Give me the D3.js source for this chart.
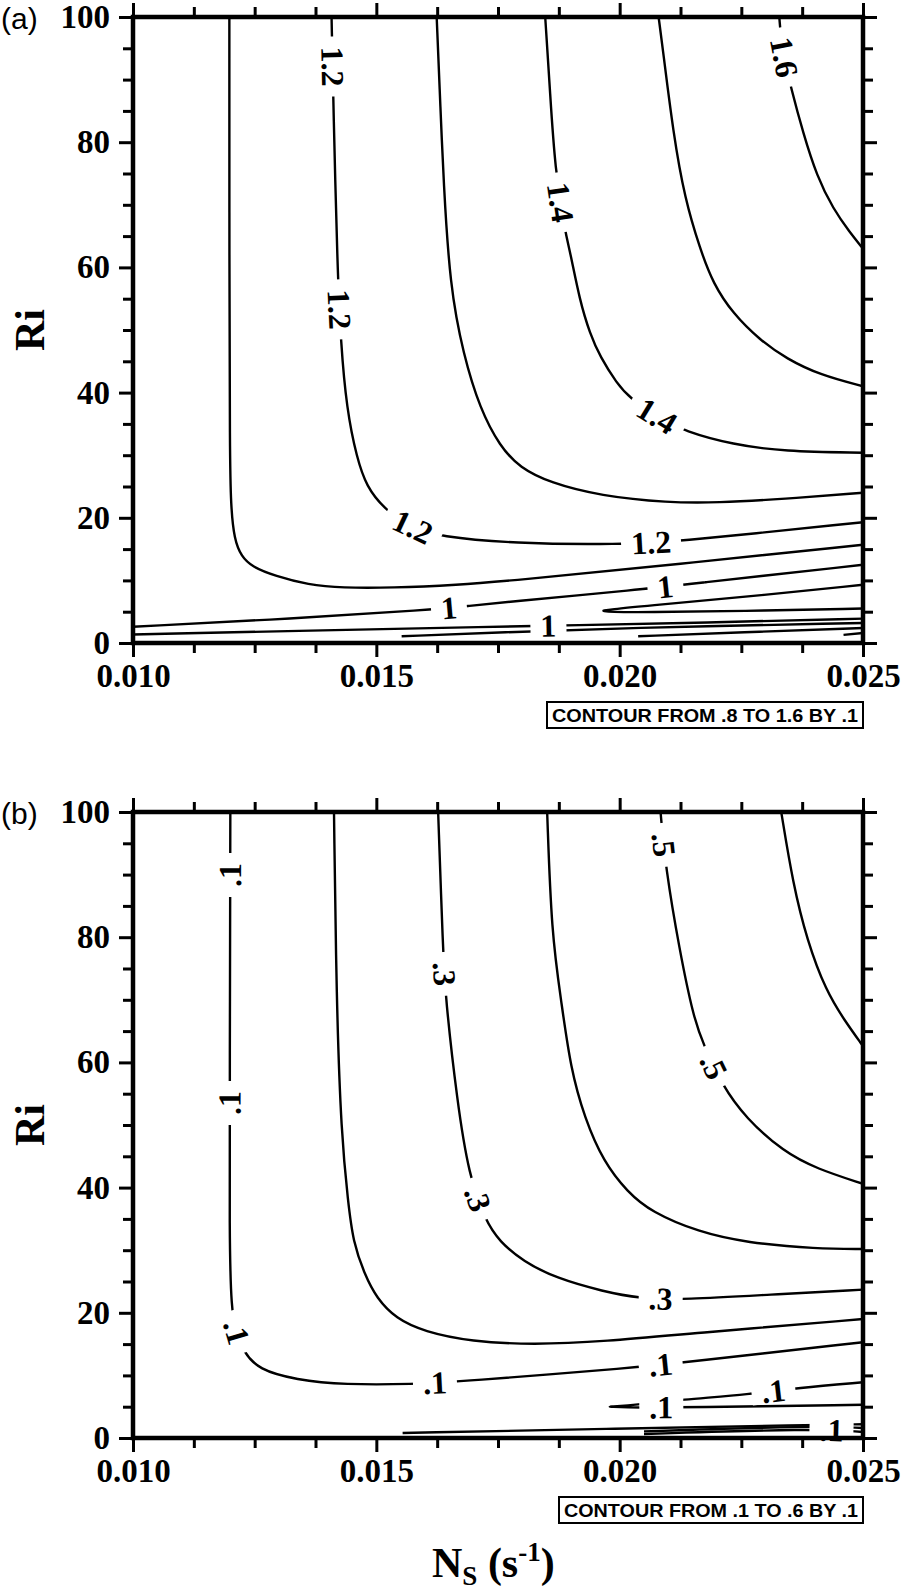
<!DOCTYPE html>
<html>
<head>
<meta charset="utf-8">
<script src="https://cdn.jsdelivr.net/npm/d3@7"></script>
<style>
  body { margin: 0; background: #fff; }
  svg { display: block; }
  .tick text { font-family: "Liberation Serif", "Times New Roman", serif; font-weight: bold; font-size: 33px; fill: #000; }
  .tick line { stroke: #000; stroke-width: 3; }
</style>
</head>
<body>
<div id="chart"></div>
<script>
// ---- axis ticks ----
const xMajor = [0.010, 0.015, 0.020, 0.025];
const xMinor = [0.01125, 0.0125, 0.01375, 0.01625, 0.0175, 0.01875, 0.02125, 0.0225, 0.02375];
const yMajor = [0, 20, 40, 60, 80, 100];
const yMinor = [5, 10, 15, 25, 30, 35, 45, 50, 55, 65, 70, 75, 85, 90, 95];

// ---- panel (a): contour lines, [Ns, Ri] ----
const a10upper = [[0.010,2.6],[0.0133,3.9],[0.0161,5.3],[0.0169,5.9],[0.0176,6.5],[0.0205,8.6],[0.0213,9.3],[0.025,12.5]];
const a10lower = [[0.010,1.36],[0.0140,2.04],[0.0174,2.6],[0.0189,2.8],[0.022,3.3],[0.025,3.9]];
const a11 = [[0.01198,100],[0.01198,60],[0.01199,30],[0.01201,22],[0.01208,16.5],[0.01223,13.8],[0.01244,12.2],[0.01292,10.7],[0.0136,9.3],[0.0143,8.8],[0.0153,8.8],[0.0167,9.3],[0.0177,9.9],[0.0212,12.6],[0.025,15.7]];
const a11loop = [[0.025,9.3],[0.0225,7.3],[0.0205,5.9],[0.0198,5.35],[0.01966,5.15],[0.01966,5.15],[0.0198,4.95],[0.0205,4.9],[0.0225,5.1],[0.025,5.5]];
const a11low1 = [[0.01552,1.08],[0.0176,1.7],[0.0200,2.4],[0.025,3.2]];
const a11low2 = [[0.02038,1.08],[0.0225,1.7],[0.025,2.4]];
const a11low3 = [[0.0246,1.3],[0.025,1.6]];
const a12 = [[0.01408,100],[0.01412,85],[0.0142,60],[0.01427,48],[0.01439,37.4],[0.0146,29.5],[0.0148,25],[0.01514,21.6],[0.0157,18.4],[0.0163,17.0],[0.0178,15.9],[0.0200,15.7],[0.0213,16.3],[0.025,19.3]];
const a13 = [[0.01624,100],[0.01632,85],[0.01638,74],[0.01651,57],[0.01679,46],[0.01713,37.4],[0.01754,31.4],[0.01795,28],[0.01857,25.6],[0.0196,23.5],[0.021,22.4],[0.022,22.4],[0.02336,23],[0.025,24]];
const a14 = [[0.01847,100],[0.01857,88],[0.01867,75.7],[0.01888,65.6],[0.01898,62.6],[0.01918,54.7],[0.01939,49.4],[0.0196,45.7],[0.01994,41.5],[0.02021,39.1],[0.0208,36],[0.02134,33.8],[0.02233,31.7],[0.02336,30.6],[0.025,30.4]];
const a15 = [[0.0208,100],[0.02089,94.7],[0.0211,81.5],[0.02134,70.9],[0.02165,63],[0.02192,57.4],[0.02233,52.6],[0.02288,48.4],[0.02343,45.4],[0.02412,42.8],[0.025,41]];
const a16 = [[0.02328,100],[0.02333,95],[0.02353,88.4],[0.02377,81.5],[0.02405,74.6],[0.02439,69.3],[0.02473,65.6],[0.025,63]];
const labelsA = [["1.2",0.01408,92],["1.2",0.01421,53.3],["1.2",0.01573,18.3],["1.2",0.02066,15.8],
                 ["1.4",0.01877,70.4],["1.4",0.02076,36.2],["1.6",0.02333,93.4],
                 ["1",0.01648,5.6],["1",0.02093,8.9],["1",0.01853,2.7]];

// ---- panel (b) ----
const b1 = [[0.01200,100],[0.01199,60],[0.01198,31.4],[0.01202,20.7],[0.01211,17],[0.01227,13.8],[0.01258,10.9],[0.01335,9.3],[0.01433,8.5],[0.01578,8.6],[0.01671,9.0],[0.0204,11.3],[0.02133,12.1],[0.025,15.3]];
const b1loop = [[0.025,8.9],[0.02366,8.0],[0.02269,7.0],[0.02123,6.1],[0.0204,5.35],[0.01977,5.0],[0.01977,5.0],[0.0204,4.85],[0.02133,4.9],[0.025,5.3]];
const b1low1 = [[0.01554,0.8],[0.0197,1.45],[0.0240,2.1],[0.025,2.2]];
const b1low2 = [[0.0205,1.06],[0.0240,1.95],[0.025,1.6]];
const b1low3 = [[0.0205,0.64],[0.0240,1.5],[0.025,0.96]];
const b2 = [[0.01413,100],[0.01418,69.8],[0.01428,48.4],[0.01442,37.7],[0.01452,31.4],[0.01476,26.1],[0.01501,22.3],[0.0154,19.1],[0.01598,17.0],[0.01695,15.4],[0.01822,14.9],[0.01967,15.4],[0.02162,16.8],[0.025,19.0]];
const b3 = [[0.01627,100],[0.01637,77.9],[0.01642,70.4],[0.01666,53.8],[0.0169,42],[0.01724,34.7],[0.01753,31.4],[0.01802,28.2],[0.0187,25.5],[0.01967,23.4],[0.0204,22.3],[0.02133,22.1],[0.02308,22.9],[0.025,23.7]];
const b4 = [[0.01851,100],[0.0186,80.5],[0.0188,69.8],[0.01899,59.1],[0.01928,51.1],[0.01967,44.1],[0.02016,39.3],[0.02065,36.1],[0.02162,32.9],[0.0226,31.2],[0.02405,30.2],[0.025,30.2]];
const b5 = [[0.02084,100],[0.02094,91.3],[0.02123,77.9],[0.02152,67.1],[0.02172,62.9],[0.0221,56.4],[0.02259,51.1],[0.02337,45.7],[0.02405,43],[0.025,40.6]];
const b6 = [[0.02332,100],[0.02356,88.6],[0.02385,79.5],[0.02424,71.4],[0.02463,66.6],[0.025,62.6]];
const labelsB = [[".1",0.01199,89.9],[".1",0.01199,53.5],[".1",0.01211,17.0],[".1",0.01622,8.5],[".1",0.02084,12.0],
                 [".1",0.02084,5.0],[".1",0.02317,7.3],[".1",0.02436,1.3],
                 [".3",0.0164,74.1],[".3",0.01705,38.2],[".3",0.02084,22.1],
                 [".5",0.02089,94.7],[".5",0.02186,59.1]];

const panels = [
  {tag: "(a)", top: 17, contours: [a10upper, a10lower, a11, a11loop, a11low1, a11low2, a11low3, a12, a13, a14, a15, a16],
   labels: labelsA, box: "CONTOUR FROM .8 TO 1.6 BY .1", boxX: 547},
  {tag: "(b)", top: 812, contours: [b1, b1loop, b1low1, b1low2, b1low3, b2, b3, b4, b5, b6],
   labels: labelsB, box: "CONTOUR FROM .1 TO .6 BY .1", boxX: 559}
];

const W = 901, H = 1595;
const plotH = 626;
const serif = '"Liberation Serif", "Times New Roman", serif';
const sans = '"Liberation Sans", Arial, sans-serif';

const svg = d3.select('#chart').append('svg')
    .attr('width', W)
    .attr('height', H);

const x = d3.scaleLinear().domain([0.010, 0.025]).range([133, 863]);

panels.forEach((p, i) => {
    const y = d3.scaleLinear().domain([0, 100]).range([p.top + plotH, p.top]);
    const g = svg.append('g');

    g.append('clipPath').attr('id', 'clip' + i)
      .append('rect')
        .attr('x', x(0.010)).attr('y', p.top)
        .attr('width', x(0.025) - x(0.010)).attr('height', plotH);

    const line = d3.line()
        .x(d => x(d[0]))
        .y(d => y(d[1]))
        .curve(d3.curveBasis);

    const paths = g.append('g')
        .attr('clip-path', `url(#clip${i})`)
      .selectAll('path')
      .data(p.contours)
      .join('path')
        .attr('d', line)
        .attr('fill', 'none')
        .attr('stroke', '#000')
        .attr('stroke-width', 2.4);

    // sample the drawn lines so labels sit on them and follow their direction
    const samples = [];
    paths.each(function() {
        const len = this.getTotalLength();
        for (let L = 0; L <= len; L += 1.5) {
            const pt = this.getPointAtLength(L);
            samples.push({node: this, L: L, len: len, x: pt.x, y: pt.y});
        }
    });

    p.labels.forEach(lb => {
        const lx = x(lb[1]), ly = y(lb[2]);
        let best = null, bd = Infinity;
        samples.forEach(s => {
            const d = (s.x - lx) ** 2 + (s.y - ly) ** 2;
            if (d < bd) { bd = d; best = s; }
        });
        const p0 = best.node.getPointAtLength(Math.max(0, best.L - 12));
        const p1 = best.node.getPointAtLength(Math.min(best.len, best.L + 12));
        let ang = Math.atan2(p1.y - p0.y, p1.x - p0.x) * 180 / Math.PI;
        if (ang > 90) ang -= 180;
        if (ang <= -90) ang += 180;

        const lg = g.append('g')
            .attr('transform', `translate(${best.x},${best.y}) rotate(${ang})`);
        const rect = lg.append('rect').attr('fill', '#fff');
        const t = lg.append('text')
            .attr('text-anchor', 'middle')
            .attr('dy', '0.34em')
            .style('font-family', serif)
            .style('font-weight', 'bold')
            .style('font-size', '32px')
            .text(lb[0]);
        const w = t.node().getComputedTextLength() + 20;
        rect.attr('x', -w / 2).attr('y', -12).attr('width', w).attr('height', 24);
    });

    // axes: major and minor ticks on all four sides
    const axes = [
      [d3.axisBottom(x).tickValues(xMajor).tickSize(14).tickPadding(7).tickFormat(d3.format('.3f')), `translate(0,${p.top + plotH})`],
      [d3.axisBottom(x).tickValues(xMinor).tickSize(10).tickFormat(''), `translate(0,${p.top + plotH})`],
      [d3.axisTop(x).tickValues(xMajor).tickSize(14).tickFormat(''), `translate(0,${p.top})`],
      [d3.axisTop(x).tickValues(xMinor).tickSize(10).tickFormat(''), `translate(0,${p.top})`],
      [d3.axisLeft(y).tickValues(yMajor).tickSize(14).tickPadding(9), `translate(${x(0.010)},0)`],
      [d3.axisLeft(y).tickValues(yMinor).tickSize(10).tickFormat(''), `translate(${x(0.010)},0)`],
      [d3.axisRight(y).tickValues(yMajor).tickSize(14).tickFormat(''), `translate(${x(0.025)},0)`],
      [d3.axisRight(y).tickValues(yMinor).tickSize(10).tickFormat(''), `translate(${x(0.025)},0)`]
    ];
    axes.forEach(([ax, tr]) => {
        const a = g.append('g').attr('transform', tr).call(ax.tickSizeOuter(0));
        a.select('.domain').remove();
    });

    g.append('rect')
        .attr('x', x(0.010)).attr('y', p.top)
        .attr('width', x(0.025) - x(0.010)).attr('height', plotH)
        .attr('fill', 'none')
        .attr('stroke', '#000')
        .attr('stroke-width', 4.5);

    g.append('text')
        .attr('x', 1).attr('y', p.top + 12)
        .style('font-family', sans)
        .style('font-size', '30px')
        .text(p.tag);

    g.append('text')
        .attr('transform', `translate(44,${p.top + plotH / 2}) rotate(-90)`)
        .attr('text-anchor', 'middle')
        .style('font-family', serif)
        .style('font-weight', 'bold')
        .style('font-size', '42px')
        .text('Ri');

    // contour info box
    const bx = p.boxX, by = p.top + 685, bw = x(0.025) - p.boxX, bh = 26;
    g.append('rect')
        .attr('x', bx).attr('y', by).attr('width', bw).attr('height', bh)
        .attr('fill', '#fff').attr('stroke', '#000').attr('stroke-width', 2);
    g.append('text')
        .attr('x', bx + 5).attr('y', by + 20)
        .attr('textLength', bw - 10)
        .attr('lengthAdjust', 'spacingAndGlyphs')
        .style('font-family', sans)
        .style('font-weight', 'bold')
        .style('font-size', '19px')
        .text(p.box);
});

// x axis title
const xt = svg.append('text')
    .attr('x', 432).attr('y', 1577)
    .style('font-family', serif)
    .style('font-weight', 'bold')
    .style('font-size', '42px');
xt.append('tspan').text('N');
xt.append('tspan').attr('dy', 8).style('font-size', '27px').text('S');
xt.append('tspan').attr('dy', -8).text(' (s');
xt.append('tspan').attr('dy', -16).style('font-size', '27px').text('-1');
xt.append('tspan').attr('dy', 16).text(')');
</script>
</body>
</html>
